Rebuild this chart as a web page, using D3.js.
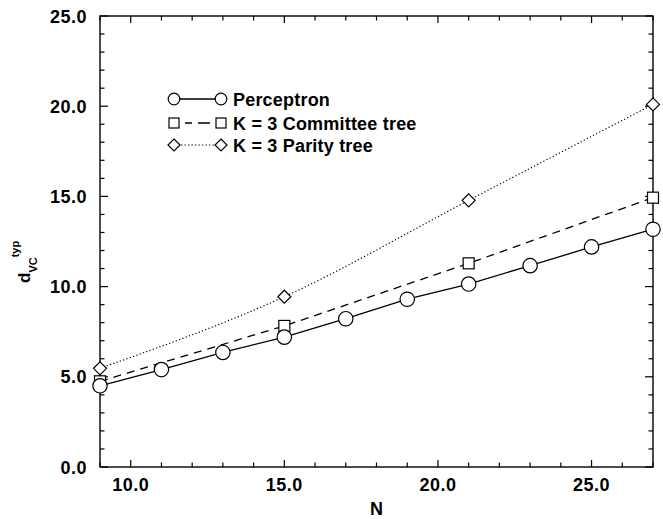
<!DOCTYPE html>
<html><head><meta charset="utf-8">
<script src="https://cdn.jsdelivr.net/npm/d3@7"></script>
<style>
body{margin:0;background:#fff;}
text{font-family:"Liberation Sans",Arial,Helvetica,sans-serif;font-weight:bold;fill:#000;}
</style></head>
<body><svg id="c" width="663" height="519"></svg>
<script>
const perceptronN = [9, 11, 13, 15, 17, 19, 21, 23, 25, 27];
const perceptronD = [4.5, 5.4, 6.35, 7.2, 8.22, 9.3, 10.14, 11.16, 12.2, 13.18];
const committeeN = [9, 15, 21, 27];
const committeeD = [4.75, 7.82, 11.29, 14.93];
const parityN = [9, 15, 21, 27];
const parityD = [5.47, 9.44, 14.78, 20.1];
const xTicks = [10, 15, 20, 25];
const yTicks = [0, 5, 10, 15, 20, 25];
const legendLabels = ["Perceptron", "K = 3 Committee tree", "K = 3 Parity tree"];

const svg = d3.select("#c");
const L = 100, R = 653, T = 16, B = 467;
const x = d3.scaleLinear().domain([9, 27]).range([L, R]);
const y = d3.scaleLinear().domain([0, 25]).range([B, T]);
const fmt = d3.format(".1f");

// frame
svg.append("rect").attr("x", L).attr("y", T).attr("width", R - L).attr("height", B - T)
  .attr("fill", "none").attr("stroke", "#000").attr("stroke-width", 1.4);

const xMinor = d3.range(9, 28, 1);
const yMinor = d3.range(0, 26, 1);
const g = svg.append("g").attr("stroke", "#000").attr("stroke-width", 1.2);
xMinor.forEach(v => {
  const len = xTicks.includes(v) ? 7 : 4.5;
  g.append("line").attr("x1", x(v)).attr("x2", x(v)).attr("y1", B).attr("y2", B - len);
  g.append("line").attr("x1", x(v)).attr("x2", x(v)).attr("y1", T).attr("y2", T + len);
});
yMinor.forEach(v => {
  const len = yTicks.includes(v) ? 8 : 4.5;
  g.append("line").attr("y1", y(v)).attr("y2", y(v)).attr("x1", L).attr("x2", L + len);
  g.append("line").attr("y1", y(v)).attr("y2", y(v)).attr("x1", R).attr("x2", R - len);
});

// tick labels
svg.append("g").selectAll("text").data(xTicks).join("text")
  .attr("x", d => x(d)).attr("y", 491).attr("text-anchor", "middle")
  .style("font-size", "18px").style("letter-spacing", "0.5px").text(d => fmt(d));
svg.append("g").selectAll("text").data(yTicks).join("text")
  .attr("x", 87).attr("y", d => y(d) + 6.5).attr("text-anchor", "end")
  .style("font-size", "18px").style("letter-spacing", "0.5px").text(d => fmt(d));

// axis titles
svg.append("text").attr("x", (L + R) / 2).attr("y", 515).attr("text-anchor", "middle")
  .style("font-size", "18px").text("N");
const yt = svg.append("text").attr("transform", "translate(30,283) rotate(-90)");
yt.append("tspan").style("font-size", "17px").text("d");
yt.append("tspan").style("font-size", "11px").attr("dy", 7).text("VC");
yt.append("tspan").style("font-size", "11px").attr("dy", -18).text("typ");

// series
function zip(a, b) { return a.map((v, i) => [v, b[i]]); }
const pData = zip(perceptronN, perceptronD);
const cData = zip(committeeN, committeeD);
const qData = zip(parityN, parityD);

const lineLin = d3.line().x(d => x(d[0])).y(d => y(d[1]));
const lineCurve = d3.line().x(d => x(d[0])).y(d => y(d[1])).curve(d3.curveMonotoneX);

svg.append("path").attr("d", lineCurve(qData)).attr("fill", "none").attr("stroke", "#000")
  .attr("stroke-width", 1.1).attr("stroke-dasharray", "1.3,2.2");
svg.append("path").attr("d", lineLin(cData)).attr("fill", "none").attr("stroke", "#000")
  .attr("stroke-width", 1.3).attr("stroke-dasharray", "8,6");
svg.append("path").attr("d", lineLin(pData)).attr("fill", "none").attr("stroke", "#000")
  .attr("stroke-width", 1.3);

function circle(sel, cx, cy, r) {
  sel.append("circle").attr("cx", cx).attr("cy", cy).attr("r", r)
    .attr("fill", "#fff").attr("stroke", "#000").attr("stroke-width", 1.2);
}
function square(sel, cx, cy, s) {
  sel.append("rect").attr("x", cx - s / 2).attr("y", cy - s / 2).attr("width", s).attr("height", s)
    .attr("fill", "#fff").attr("stroke", "#000").attr("stroke-width", 1.2);
}
function diamond(sel, cx, cy, h) {
  sel.append("path").attr("d", `M${cx},${cy - h}L${cx + h},${cy}L${cx},${cy + h}L${cx - h},${cy}Z`)
    .attr("fill", "#fff").attr("stroke", "#000").attr("stroke-width", 1.2);
}

const mk = svg.append("g");
qData.forEach(d => diamond(mk, x(d[0]), y(d[1]), 6.5));
cData.forEach(d => square(mk, x(d[0]), y(d[1]), 11));
pData.forEach(d => circle(mk, x(d[0]), y(d[1]), 7.2));

// legend
const lg = svg.append("g");
const rows = [99, 123, 145];
const lx1 = 174, lx2 = 221;
lg.append("line").attr("x1", lx1).attr("x2", lx2).attr("y1", rows[0]).attr("y2", rows[0])
  .attr("stroke", "#000").attr("stroke-width", 1.3);
lg.append("line").attr("x1", lx1 + 6).attr("x2", lx2 - 6).attr("y1", rows[1]).attr("y2", rows[1])
  .attr("stroke", "#000").attr("stroke-width", 1.3).attr("stroke-dasharray", "0,5,7,6,7");
lg.append("line").attr("x1", lx1).attr("x2", lx2).attr("y1", rows[2]).attr("y2", rows[2])
  .attr("stroke", "#000").attr("stroke-width", 1.1).attr("stroke-dasharray", "1.3,2.2");
circle(lg, lx1, rows[0], 5.8); circle(lg, lx2, rows[0], 5.8);
square(lg, lx1, rows[1], 10); square(lg, lx2, rows[1], 10);
diamond(lg, lx1, rows[2], 6); diamond(lg, lx2, rows[2], 6);
lg.selectAll("text.l").data(legendLabels).join("text").attr("class", "l")
  .attr("x", 233).attr("y", (d, i) => rows[i] + 6.5)
  .style("font-size", "18px").style("letter-spacing", "0.2px").text(d => d);
</script></body></html>
